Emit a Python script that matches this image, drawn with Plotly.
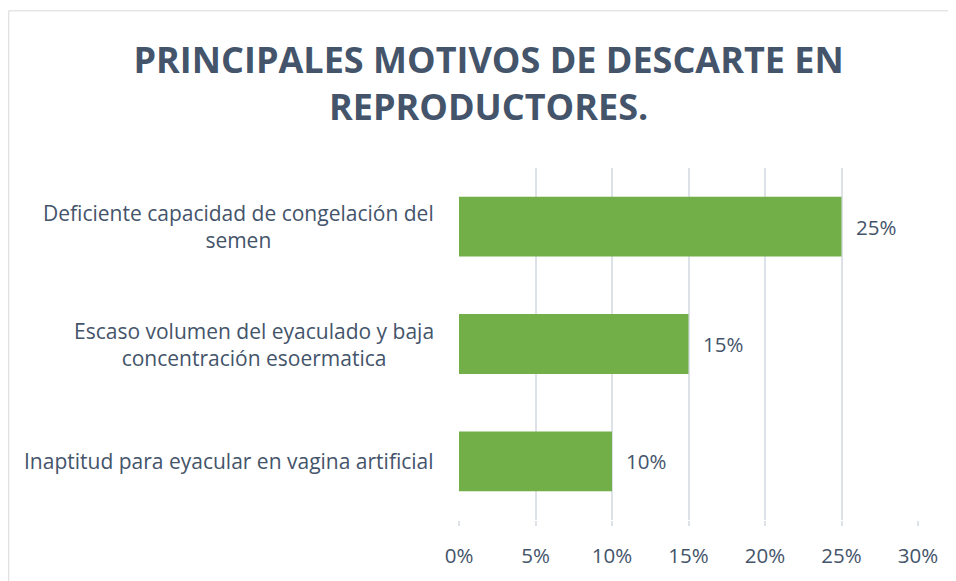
import plotly.graph_objects as go

# data
categories = [
    "Inaptitud para eyacular en vagina artificial",
    "Escaso volumen del eyaculado y baja<br>concentración esoermatica",
    "Deficiente capacidad de congelación del<br>semen",
]
values = [0.10, 0.15, 0.25]
tick_vals = [0, 0.05, 0.10, 0.15, 0.20, 0.25, 0.30]

TEXT = "#44546A"
GRID = "#DDE1E8"
FONT = "Open Sans"

fig = go.Figure()
fig.add_trace(go.Bar(
    y=categories,
    x=values,
    orientation="h",
    width=0.51,
    marker=dict(color="#72AF49", line=dict(width=0)),
    hoverinfo="skip",
))

# category labels as centered annotations
for cat in categories:
    fig.add_annotation(
        x=-0.05, xref="paper", y=cat, yref="y",
        text=cat, showarrow=False, xanchor="right", align="center",
        font=dict(family=FONT, size=21, color=TEXT),
    )

# value labels just right of each bar
for cat, v in zip(categories, values):
    fig.add_annotation(
        x=v, y=cat, xref="x", yref="y",
        text=f"{v:.0%}", showarrow=False, xanchor="left", xshift=12,
        font=dict(family=FONT, size=20.5, color=TEXT),
    )

# outer chart border (only top and left edges are visible)
fig.add_shape(type="line", xref="paper", yref="paper",
              x0=-0.981, x1=1.1, y0=1.4465, y1=1.4465,
              line=dict(color="#D9D9D9", width=1), layer="below")
fig.add_shape(type="line", xref="paper", yref="paper",
              x0=-0.981, x1=-0.981, y0=-0.2, y1=1.4465,
              line=dict(color="#D9D9D9", width=1), layer="below")

fig.update_layout(
    width=948, height=573,
    margin=dict(l=451, r=38, t=160, b=58),
    paper_bgcolor="white", plot_bgcolor="white",
    title=dict(
        text="<b>PRINCIPALES MOTIVOS DE DESCARTE EN<br>REPRODUCTORES.</b>",
        x=0.507, xanchor="center", y=0.886, yanchor="middle",
        font=dict(family=FONT, size=36, color=TEXT),
    ),
    showlegend=False,
    bargap=0.49,
    xaxis=dict(
        range=[0, 0.30], tickvals=tick_vals, tickformat=".0%",
        showgrid=True, gridcolor=GRID, gridwidth=1.5,
        zeroline=False, showline=False,
        ticks="outside", ticklen=5, tickcolor=GRID, tickwidth=1.5,
        tickfont=dict(family=FONT, size=20.5, color=TEXT),
        ticklabelstandoff=12,
    ),
    yaxis=dict(showticklabels=False, showgrid=False, zeroline=False, showline=False),
)

fig.write_html("out.html")
